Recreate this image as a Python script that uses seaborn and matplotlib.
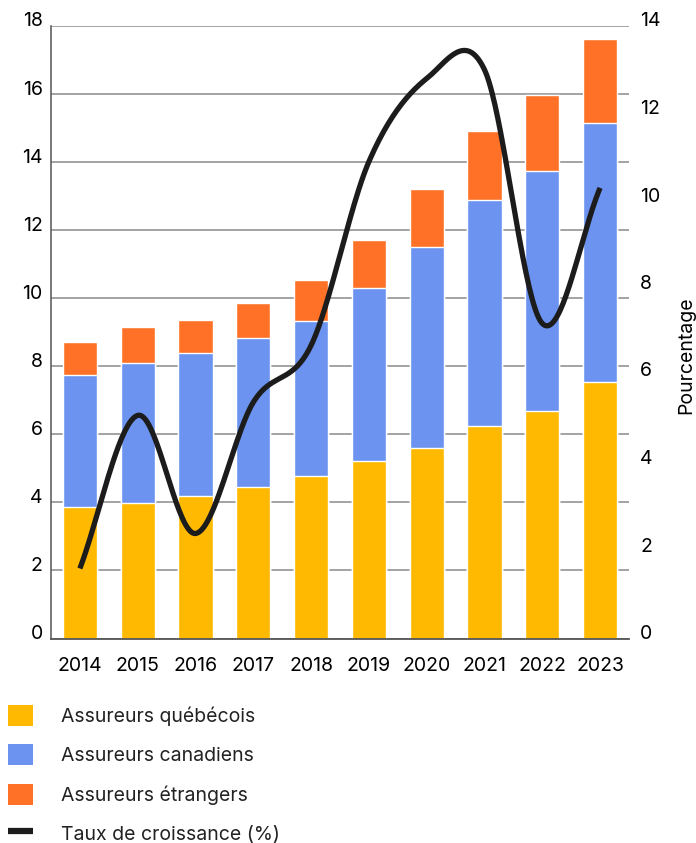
import numpy as np
import pandas as pd
import matplotlib
matplotlib.use("Agg")
import matplotlib.pyplot as plt
import matplotlib.transforms as mtransforms
import seaborn as sns
from matplotlib.patches import Patch
from matplotlib.lines import Line2D

# Données (milliards $)
annees = ["2014", "2015", "2016", "2017", "2018", "2019", "2020", "2021", "2022", "2023"]
quebecois = [3.86, 3.97, 4.19, 4.46, 4.77, 5.21, 5.59, 6.25, 6.69, 7.55]
canadiens = [3.88, 4.13, 4.19, 4.37, 4.57, 5.09, 5.92, 6.64, 7.05, 7.61]
etrangers = [0.96, 1.05, 0.99, 1.04, 1.20, 1.41, 1.69, 2.01, 2.24, 2.45]
croissance = [1.6, 5.1, 2.4, 5.4, 6.7, 10.9, 12.8, 13.0, 7.2, 10.3]

JAUNE = "#FFB900"
BLEU = "#6B93EF"
ORANGE = "#FF7126"
NOIR = "#1c1c1c"

df = pd.DataFrame({"Annee": annees, "Quebecois": quebecois,
                   "Canadiens": canadiens, "Etrangers": etrangers})
df["cum_qc"] = df["Quebecois"]
df["cum_ca"] = df["cum_qc"] + df["Canadiens"]
df["cum_all"] = df["cum_ca"] + df["Etrangers"]

sns.set_style("white")
plt.rcParams["font.family"] = ["Inter", "DejaVu Sans"]
FS = 14

fig = plt.figure(figsize=(6.96, 8.43), dpi=100)
ax = fig.add_axes([51 / 696, 1 - 638.5 / 843, (629 - 51) / 696, (638.5 - 26) / 843])

# Barres empilées : on dessine les cumuls du plus haut au plus bas
sns.barplot(data=df, x="Annee", y="cum_all", color=ORANGE, width=0.59, ax=ax, saturation=1)
sns.barplot(data=df, x="Annee", y="cum_ca", color=BLEU, width=0.59, ax=ax, saturation=1)
sns.barplot(data=df, x="Annee", y="cum_qc", color=JAUNE, width=0.59, ax=ax, saturation=1)

ax.set_xlim(-0.5, 9.5)
ax.set_ylim(0, 18)
ax.set_yticks(range(0, 19, 2))
ax.set_xlabel("")
ax.set_ylabel("")
ax.set_axisbelow(True)
ax.yaxis.grid(True, color="#8a8a8a", linewidth=1.1)
ax.xaxis.grid(False)
for s in ["top", "right"]:
    ax.spines[s].set_visible(False)
ax.spines["left"].set_color("#555555")
ax.spines["bottom"].set_color("#555555")
ax.spines["left"].set_linewidth(1.1)
ax.spines["bottom"].set_linewidth(1.3)
ax.tick_params(axis="y", length=0, pad=6, labelsize=FS, labelcolor="black")
ax.tick_params(axis="x", length=0, pad=13, labelsize=FS, labelcolor="black")

# Taux de croissance sur l'axe de droite (courbe lissée Catmull-Rom)
ax2 = ax.twinx()
x = np.arange(len(croissance))
y = np.array(croissance)
m = np.gradient(y, x)
xs, ys = [], []
for i in range(len(x) - 1):
    t = np.linspace(0, 1, 40)
    h00 = 2 * t**3 - 3 * t**2 + 1
    h10 = t**3 - 2 * t**2 + t
    h01 = -2 * t**3 + 3 * t**2
    h11 = t**3 - t**2
    xs.extend(x[i] + t)
    ys.extend(h00 * y[i] + h10 * m[i] + h01 * y[i + 1] + h11 * m[i + 1])
ax2.plot(xs, ys, color=NOIR, linewidth=3.8, solid_capstyle="butt")
ax2.set_ylim(0, 14)
ax2.set_yticks(range(0, 15, 2))
ax2.set_xlim(-0.5, 9.5)
for s in ["top", "right", "left", "bottom"]:
    ax2.spines[s].set_visible(False)
ax2.tick_params(axis="y", length=0, pad=8, labelsize=FS, labelcolor="black")
ax2.set_ylabel("Pourcentage", fontsize=FS, color="black")
ax2.yaxis.set_label_coords(1.083, 0.463)

# étiquettes des axes Y légèrement remontées
decal = mtransforms.ScaledTranslation(0, 6.5 / 100, fig.dpi_scale_trans)
for a in (ax, ax2):
    for lab in a.get_yticklabels():
        lab.set_transform(lab.get_transform() + decal)

# Légende
handles = [
    Patch(facecolor=JAUNE, edgecolor="none"),
    Patch(facecolor=BLEU, edgecolor="none"),
    Patch(facecolor=ORANGE, edgecolor="none"),
    Line2D([0], [0], color=NOIR, linewidth=4.5, solid_capstyle="butt"),
]
labels = ["Assureurs québécois", "Assureurs canadiens", "Assureurs étrangers", "Taux de croissance (%)"]
fig.legend(handles, labels, loc="upper left", bbox_to_anchor=(8 / 696, 1 - 705 / 843),
           frameon=False, fontsize=FS, handlelength=1.3, handleheight=1.3,
           handletextpad=1.45, labelspacing=0.93, borderpad=0, borderaxespad=0,
           labelcolor="#222222")

fig.savefig("out.png", dpi=100)
